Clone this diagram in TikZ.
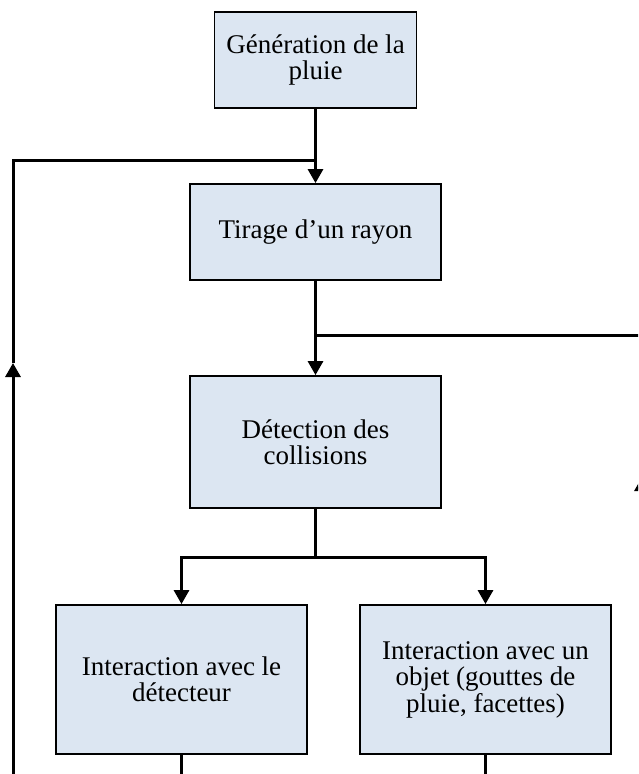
\documentclass[tikz,border=0pt]{standalone}
\usepackage{fontspec}
\setmainfont{Liberation Serif}
\usepackage{tikz}
\usetikzlibrary{arrows.meta}
\definecolor{boxcolor}{HTML}{DCE6F2}

\begin{document}
\begin{tikzpicture}[x=1pt,y=-1pt,
  box/.style={draw=black,line width=1.8pt,fill=boxcolor,align=center,
    minimum width=251pt,minimum height=96pt,inner sep=0pt,
    font=\fontsize{27}{26.5}\selectfont},
  line/.style={black,line width=3pt},
  arr/.style={line,-{Triangle[length=14pt,width=15pt]}}]
  \useasboundingbox (0,0) rectangle (638,774);
  \clip (0,0) rectangle (638,774);
  % boxes
  \node[box,minimum width=202pt] (gen) at (315.5,60) {Génération de la\\pluie};
  \node[box] (tir) at (315.5,232) {Tirage d’un rayon};
  \node[box,minimum height=132pt] (det) at (315.5,442) {Détection des\\collisions};
  \node[box,minimum height=149pt] (intd) at (181.5,679.5) {Interaction avec le\\détecteur};
  \node[box,minimum height=149pt] (into) at (485.5,679.5) {Interaction avec un\\objet (gouttes de\\pluie, facettes)};
  % junctions
  \coordinate (join) at (315.5,160);
  \coordinate (loopl) at (13,160);
  \coordinate (looplm) at (13,363);
  \coordinate (looplb) at (13,790);
  \coordinate (split) at (315.5,335);
  \coordinate (loopr) at (642,335);
  \coordinate (looprm) at (642,477);
  \coordinate (looprb) at (642,790);
  \coordinate (fork) at (315.5,557);
  \coordinate (outd) at (181.5,790);
  \coordinate (outo) at (485.5,790);
  % connectors
  \draw[arr] (gen.south) -- (tir.north);
  \draw[arr] (looplb) -- (looplm);
  \draw[line] (looplm) -- (loopl) -- (join);
  \draw[line] (tir.south) -- (split);
  \draw[arr] (split) -- (det.north);
  \draw[arr] (looprb) -- (looprm);
  \draw[line] (looprm) -- (loopr) -- (split);
  \draw[line] (det.south) -- (fork);
  \draw[arr] (fork) -| (intd.north);
  \draw[arr] (fork) -| (into.north);
  \draw[line] (intd.south) -- (outd);
  \draw[line] (into.south) -- (outo);
\end{tikzpicture}
\end{document}
